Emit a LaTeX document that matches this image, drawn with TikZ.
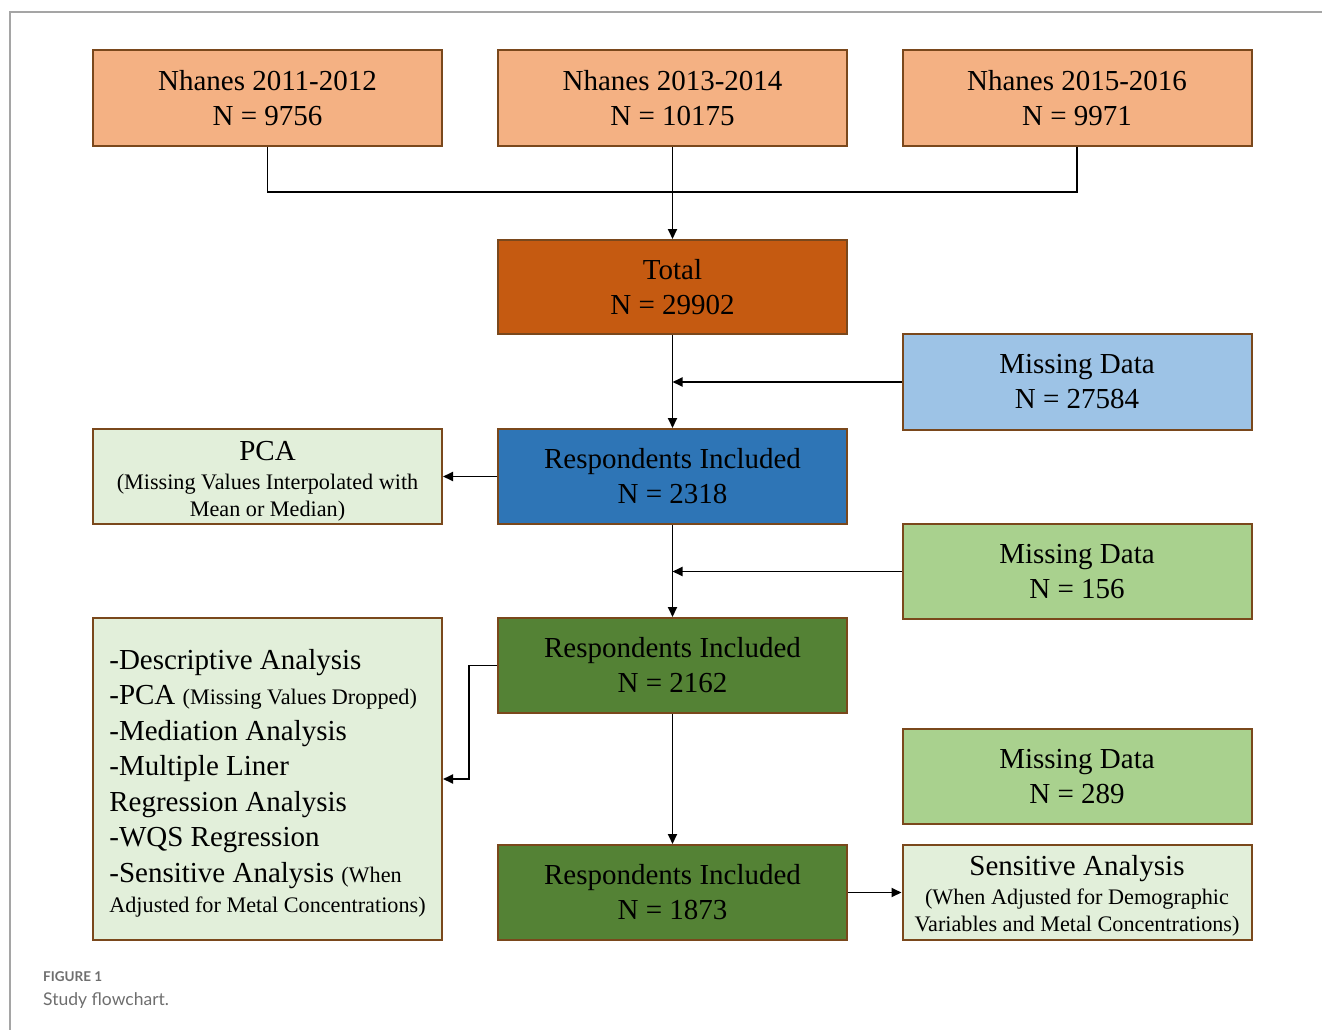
\documentclass[tikz,border=0pt]{standalone}
\usepackage{fontspec}
\setmainfont{Liberation Serif}
\newfontfamily\capfont{Lato}
\usetikzlibrary{arrows.meta}
\definecolor{salmon}{HTML}{F4B183}
\definecolor{totalc}{HTML}{C55A11}
\definecolor{lblue}{HTML}{9DC3E6}
\definecolor{dblue}{HTML}{2E75B6}
\definecolor{mgreen}{HTML}{A9D18E}
\definecolor{dgreen}{HTML}{548235}
\definecolor{lgreen}{HTML}{E2EFDA}
\definecolor{edgec}{RGB}{122,72,28}
\definecolor{framec}{RGB}{165,165,165}
\definecolor{capc}{RGB}{110,110,110}
\newcommand{\bigf}{\fontsize{29}{35}\selectfont}
\newcommand{\smallf}{\fontsize{22.2}{27}\selectfont}
\begin{document}
\begin{tikzpicture}[x=1pt,y=-1pt,
  box/.style={draw=edgec,line width=2pt,minimum width=349pt,minimum height=95pt,
    align=center,inner sep=0pt,font=\bigf},
  smallbox/.style={box,font=\smallf},
  arr/.style={line width=1.8pt,-{Triangle[length=10pt,width=9pt]}},
  conn/.style={line width=1.8pt}]
\useasboundingbox (0,0) rectangle (1322,1030);
\draw[framec,line width=1.5pt] (10,1030) -- (10,12) -- (1322,12);
\node[box,fill=salmon,minimum height=96pt] (n1) at (267.5,98) {Nhanes 2011-2012\\N = 9756};
\node[box,fill=salmon,minimum height=96pt] (n2) at (672.5,98) {Nhanes 2013-2014\\N = 10175};
\node[box,fill=salmon,minimum height=96pt] (n3) at (1077,98) {Nhanes 2015-2016\\N = 9971};
\node[box,fill=totalc,minimum height=94pt] (tot) at (672.5,287) {Total\\N = 29902};
\node[box,fill=lblue,minimum height=96pt] (m1) at (1077,382) {Missing Data\\N = 27584};
\node[smallbox,fill=lgreen] (pca) at (267.5,476.5) {\rule{0pt}{29pt}{\bigf PCA}\\[2pt]
  (Missing Values Interpolated with\\Mean or Median)};
\node[box,fill=dblue] (r1) at (672.5,476.5) {Respondents Included\\N = 2318};
\node[box,fill=mgreen] (m2) at (1077,571.5) {Missing Data\\N = 156};
\node[box,fill=lgreen,minimum height=322pt,align=left,
  font=\fontsize{29}{35.5}\selectfont] (lft) at (267.5,779)
  {\rule{0pt}{28pt}-Descriptive Analysis\\
   -PCA {\smallf (Missing Values Dropped)}\\
   -Mediation Analysis\\
   -Multiple Liner\\
   Regression Analysis\\
   -WQS Regression\\
   -Sensitive Analysis {\smallf (When}\\[-5.5pt]
   {\smallf Adjusted for Metal Concentrations)}};
\node[box,fill=dgreen] (r2) at (672.5,665.5) {Respondents Included\\N = 2162};
\node[box,fill=mgreen] (m3) at (1077,776.5) {Missing Data\\N = 289};
\node[box,fill=dgreen] (r3) at (672.5,892.5) {Respondents Included\\N = 1873};
\node[smallbox,fill=lgreen] (sens) at (1077,892.5) {\rule{0pt}{27pt}{\bigf Sensitive Analysis}\\[2pt]
  (When Adjusted for Demographic\\Variables and Metal Concentrations)};
\coordinate (j) at (672.5,192);
\draw[conn] (n1.south) |- (j) -| (n3.south);
\draw[arr] (n2.south) -- (tot.north);
\draw[arr] (tot.south) -- (r1.north);
\draw[arr] (m1.west) -- (m1.west -| tot.south);
\draw[arr] (r1.west) -- (pca.east);
\draw[arr] (r1.south) -- (r2.north);
\draw[arr] (m2.west) -- (m2.west -| r1.south);
\draw[arr] (r2.west) -- ++(-28,0) |- (lft.east);
\draw[arr] (r2.south) -- (r3.north);
\draw[arr] (r3.east) -- (sens.west);
\node[anchor=base west,inner sep=0pt,text=capc,font=\capfont\bfseries\fontsize{13.5}{16}\selectfont] (fig) at (43,981) {FIGURE 1};
\node[anchor=base west,inner sep=0pt,text=capc,font=\capfont\fontsize{17.5}{20}\selectfont] (cap) at (43,1005) {Study flowchart.};
\end{tikzpicture}
\end{document}
